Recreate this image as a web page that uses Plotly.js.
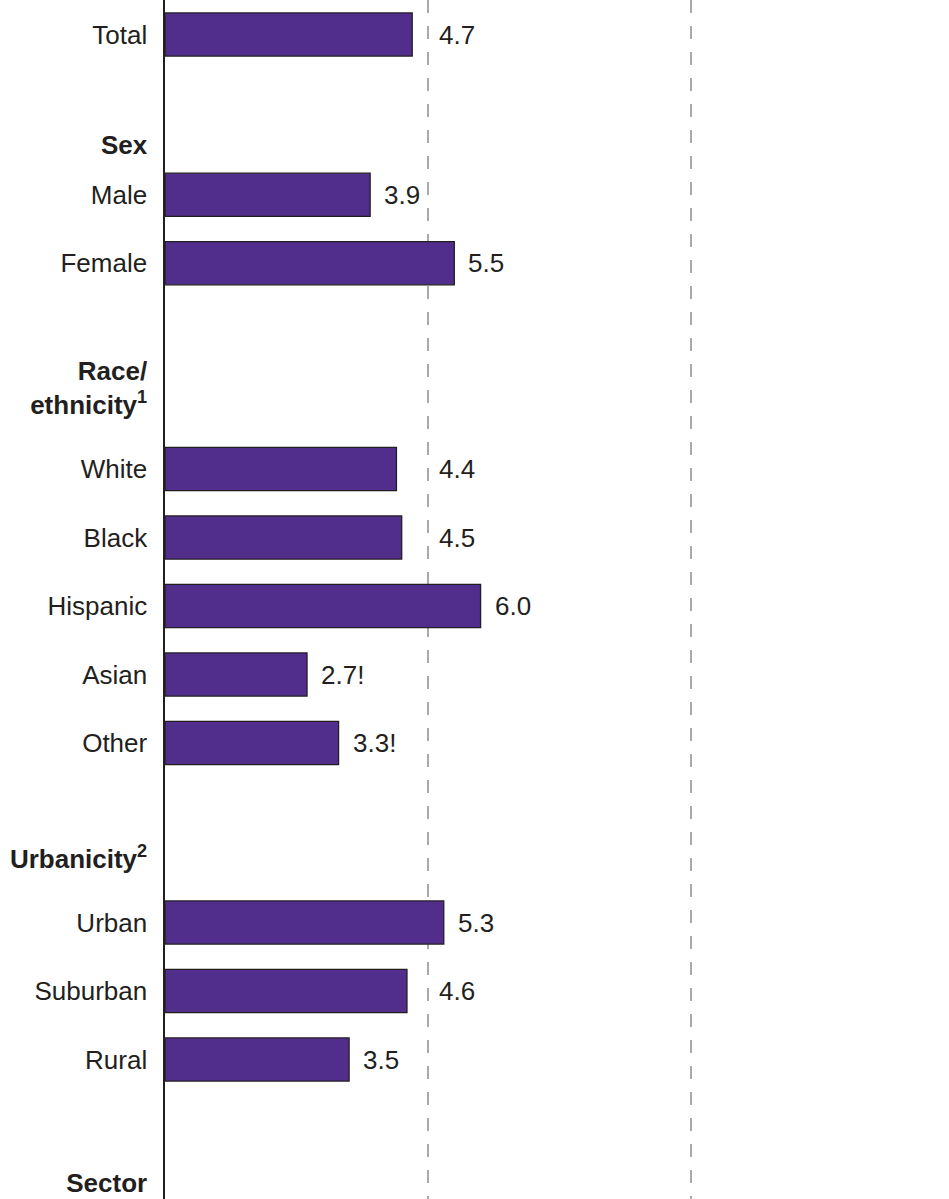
<!DOCTYPE html>
<html>
<head>
<meta charset="utf-8">
<script src="https://cdn.plot.ly/plotly-3.0.1.min.js"></script>
<style>
  html, body { margin: 0; padding: 0; background: #ffffff; }
  #chart { width: 949px; height: 1199px; }
</style>
</head>
<body>
<div id="chart"></div>
<script>
// ---- Data ----
const groupHeaders = ["", "Sex", "Race/<br>ethnicity<sup>1</sup>", "Urbanicity<sup>2</sup>", "Sector"];
const groupCategories = [
  ["Total"],
  ["Male", "Female"],
  ["White", "Black", "Hispanic", "Asian", "Other"],
  ["Urban", "Suburban", "Rural"],
  []
];
const groupValues = [
  [4.7],
  [3.9, 5.5],
  [4.4, 4.5, 6.0, 2.7, 3.3],
  [5.3, 4.6, 3.5],
  []
];
const groupValueLabels = [
  ["4.7"],
  ["3.9", "5.5"],
  ["4.4", "4.5", "6.0", "2.7!", "3.3!"],
  ["5.3", "4.6", "3.5"],
  []
];
const gridTicks = [5, 10];

// ---- Layout spacing (in row units) ----
const gapBeforeHeader = [0, 1.613, 1.815, 1.693, 1.806];
const gapAfterHeader  = [0, 0.726, 1.189, 0.928, 0.9];

const PX_PER_ROW = 68.5;
const TOP_OFFSET_PX = 34.5;
const PLOT_H = 1199;
const LEFT = 165;
const PLOT_W = 949 - LEFT;
const PX_PER_UNIT = (692 - 429) / 5;   // ~52.6 px per unit
const XMAX = PLOT_W / PX_PER_UNIT;

const barY = [], barX = [], barText = [], tickVals = [], tickText = [];
let cursor = 0;
let first = true;
groupHeaders.forEach((h, g) => {
  if (h) {
    cursor += gapBeforeHeader[g];
    tickVals.push(cursor);
    tickText.push("<b>" + h + "</b>");
    cursor += gapAfterHeader[g];
  }
  groupCategories[g].forEach((c, i) => {
    if (!first && i > 0) cursor += 1;
    first = false;
    barY.push(cursor);
    barX.push(groupValues[g][i]);
    barText.push(groupValueLabels[g][i]);
    tickVals.push(cursor);
    tickText.push(c);
  });
});

const FONT = "Liberation Sans, Arial, Helvetica, sans-serif";
const TEXT_COLOR = "#231f20";
const FS = 26;

// value labels: placed right of bar; moved past a gridline if they would collide
const annotations = barX.map((v, i) => {
  const endPx = v * PX_PER_UNIT;
  let startPx = endPx + 14;
  const labelW = 40;
  gridTicks.forEach(t => {
    const gPx = t * PX_PER_UNIT;
    if (startPx < gPx + 4 && startPx + labelW > gPx - 2) startPx = gPx + 11;
  });
  return {
    x: v, y: barY[i], xref: "x", yref: "y",
    text: barText[i], showarrow: false,
    xanchor: "left", yanchor: "middle",
    xshift: startPx - endPx - 2,
    font: { family: FONT, size: FS, color: TEXT_COLOR }
  };
});

const trace = {
  type: "bar",
  orientation: "h",
  x: barX,
  y: barY,
  width: 0.63,
  marker: { color: "#522e8c", line: { color: TEXT_COLOR, width: 1.3 } },
  hoverinfo: "skip"
};

const layout = {
  width: 949, height: PLOT_H,
  margin: { l: LEFT, r: 0, t: 0, b: 0, pad: 0 },
  paper_bgcolor: "#ffffff", plot_bgcolor: "#ffffff",
  showlegend: false,
  font: { family: FONT, size: FS, color: TEXT_COLOR },
  xaxis: {
    range: [0, XMAX],
    tickvals: gridTicks,
    showticklabels: false,
    showgrid: true,
    gridcolor: "#aaaaaa",
    gridwidth: 1.5,
    griddash: "13px,13px",
    zeroline: false,
    showline: false,
    ticks: ""
  },
  yaxis: {
    range: [(PLOT_H - TOP_OFFSET_PX) / PX_PER_ROW, -TOP_OFFSET_PX / PX_PER_ROW],
    tickvals: tickVals,
    ticktext: tickText,
    showgrid: false,
    zeroline: false,
    showline: true,
    linecolor: TEXT_COLOR,
    linewidth: 1.6,
    ticks: "",
    ticklabelstandoff: 11,
    tickfont: { family: FONT, size: FS, color: TEXT_COLOR }
  },
  annotations: annotations,
  bargap: 0
};

Plotly.newPlot("chart", [trace], layout, { staticPlot: true, displayModeBar: false });
</script>
</body>
</html>
